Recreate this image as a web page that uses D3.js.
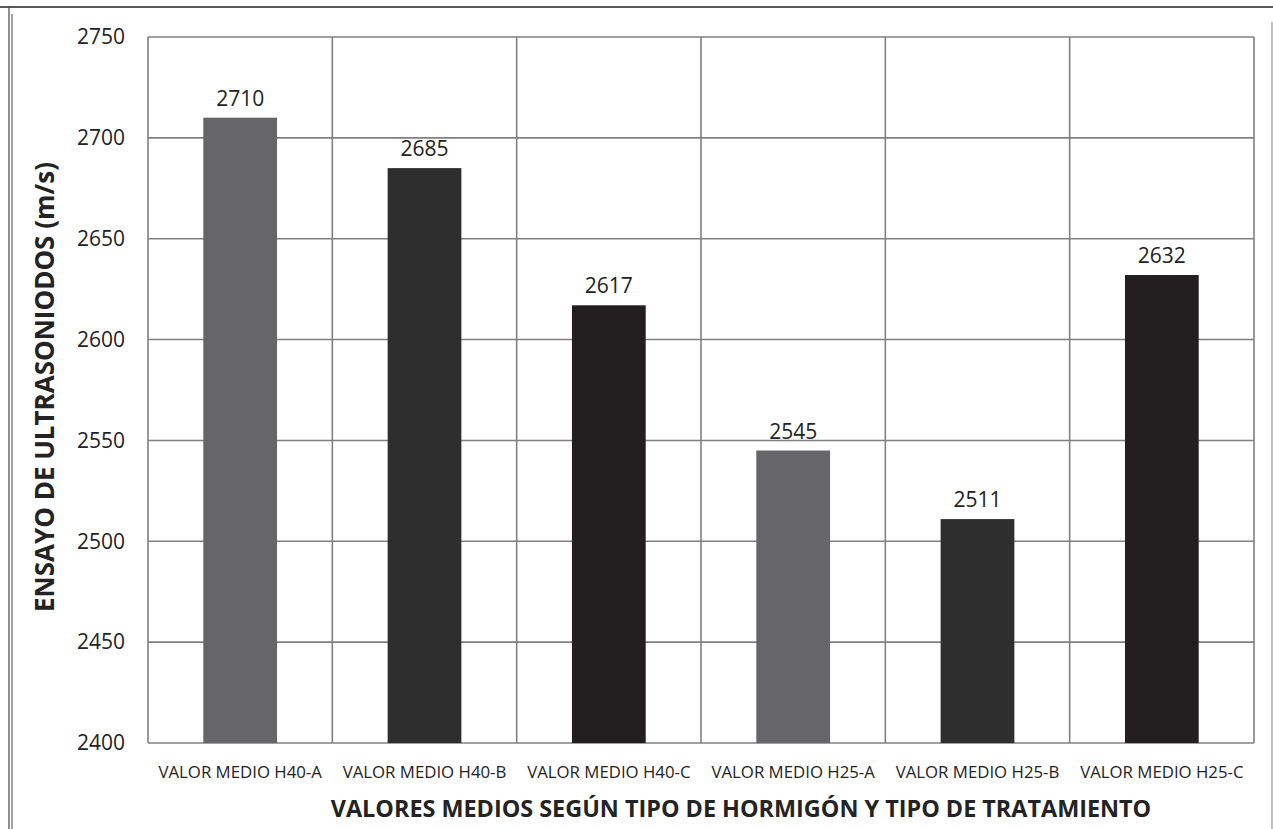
<!DOCTYPE html>
<html>
<head>
<meta charset="utf-8">
<script src="https://cdn.jsdelivr.net/npm/d3@7"></script>
<style>
  body { margin: 0; background: #fff; }
  text { font-family: "Open Sans", sans-serif; fill: #232323; }
</style>
</head>
<body>
<main></main>
<script>
const categories = [
  "VALOR MEDIO H40-A",
  "VALOR MEDIO H40-B",
  "VALOR MEDIO H40-C",
  "VALOR MEDIO H25-A",
  "VALOR MEDIO H25-B",
  "VALOR MEDIO H25-C"
];
const values = [2710, 2685, 2617, 2545, 2511, 2632];
const barColors = ["#666669", "#2f2e2f", "#231f20", "#666669", "#2f2e2f", "#231f20"];
const yTicks = [2400, 2450, 2500, 2550, 2600, 2650, 2700, 2750];

const W = 1273, H = 829;
const plot = { left: 148, right: 1254, top: 37, bottom: 743 };

const svg = d3.select("main").append("svg")
  .attr("width", W)
  .attr("height", H);

// outer frame of the scanned figure
svg.append("line").attr("x1", 0).attr("x2", W).attr("y1", 7).attr("y2", 7)
  .attr("stroke", "#222").attr("stroke-width", 1.5);
svg.append("line").attr("x1", 9).attr("x2", 9).attr("y1", 7).attr("y2", H)
  .attr("stroke", "#444").attr("stroke-width", 1.2);
svg.append("line").attr("x1", 12).attr("x2", 12).attr("y1", 14).attr("y2", H)
  .attr("stroke", "#666").attr("stroke-width", 1.2);
svg.append("line").attr("x1", 1272).attr("x2", 1272).attr("y1", 22).attr("y2", H)
  .attr("stroke", "#999").attr("stroke-width", 1.2);

const x = d3.scaleBand()
  .domain(categories)
  .range([plot.left, plot.right]);

const y = d3.scaleLinear()
  .domain([2400, 2750])
  .range([plot.bottom, plot.top]);

// horizontal gridlines
svg.append("g")
  .selectAll("line")
  .data(yTicks)
  .enter()
  .append("line")
  .attr("x1", plot.left)
  .attr("x2", plot.right)
  .attr("y1", d => y(d))
  .attr("y2", d => y(d))
  .attr("stroke", "#808080")
  .attr("stroke-width", 1.6);

// vertical gridlines at category boundaries
const bounds = categories.map(c => x(c)).concat([plot.right]);
svg.append("g")
  .selectAll("line")
  .data(bounds)
  .enter()
  .append("line")
  .attr("x1", d => d)
  .attr("x2", d => d)
  .attr("y1", plot.top)
  .attr("y2", plot.bottom)
  .attr("stroke", "#808080")
  .attr("stroke-width", 1.6);

// y tick labels
svg.append("g")
  .selectAll("text")
  .data(yTicks)
  .enter()
  .append("text")
  .attr("x", plot.left - 23)
  .attr("y", d => y(d))
  .attr("dy", "0.35em")
  .attr("text-anchor", "end")
  .style("font-size", "21px")
  .text(d => d);

// bars
const barW = x.bandwidth() * 0.4;
svg.append("g")
  .selectAll("rect")
  .data(values)
  .enter()
  .append("rect")
  .attr("x", (d, i) => x(categories[i]) + (x.bandwidth() - barW) / 2)
  .attr("y", d => y(d))
  .attr("width", barW)
  .attr("height", d => y(2400) - y(d))
  .attr("fill", (d, i) => barColors[i]);

// value labels
svg.append("g")
  .selectAll("text")
  .data(values)
  .enter()
  .append("text")
  .attr("x", (d, i) => x(categories[i]) + x.bandwidth() / 2)
  .attr("y", d => y(d) - 12)
  .attr("text-anchor", "middle")
  .style("font-size", "21px")
  .text(d => d);

// category labels
svg.append("g")
  .selectAll("text")
  .data(categories)
  .enter()
  .append("text")
  .attr("x", d => x(d) + x.bandwidth() / 2)
  .attr("y", 778)
  .attr("text-anchor", "middle")
  .style("font-size", "16.8px")
  .text(d => d);

// axis titles
svg.append("text")
  .attr("x", (plot.left + plot.right) / 2 + 40)
  .attr("y", 817)
  .attr("text-anchor", "middle")
  .style("font-size", "23.4px")
  .style("font-weight", "bold")
  .text("VALORES MEDIOS SEGÚN TIPO DE HORMIGÓN Y TIPO DE TRATAMIENTO");

svg.append("text")
  .attr("transform", `translate(54, ${(plot.top + plot.bottom) / 2 - 3}) rotate(-90)`)
  .attr("text-anchor", "middle")
  .style("font-size", "26px")
  .style("font-weight", "bold")
  .text("ENSAYO DE ULTRASONIODOS (m/s)");
</script>
</body>
</html>
